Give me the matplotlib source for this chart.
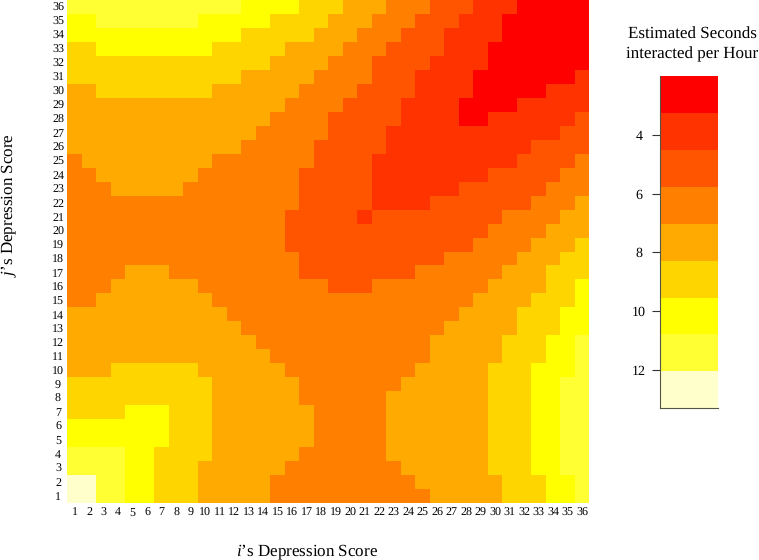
import matplotlib
matplotlib.use("Agg")
import matplotlib.pyplot as plt
from matplotlib.colors import ListedColormap, BoundaryNorm
import numpy as np

# one digit per cell, rows listed from score 36 down to score 1
# 0 is the red band (fewest seconds), 8 the pale band (most seconds)
band_rows = [
	"777777777777" + "6666" + "555" + "444" + "333" + "222" + "111" + "00000",
	"66" + "7777777" + "66666" + "5555" + "444" + "333" + "222" + "111" + "000000",
	"666666666666" + "55555" + "4" + "44" + "333" + "222" + "1111" + "000000",
	"55" + "66666666" + "55555" + "444" + "4" + "333" + "2222" + "111" + "0000000",
	"55555555555555" + "4444" + "333" + "2222" + "1111" + "0000000",
	"555555555555" + "44444" + "3" + "333" + "222" + "1111" + "0000000" + "1",
	"44" + "55555555" + "444444" + "33" + "33" + "2222" + "1111" + "00000" + "111",
	"444444444444444" + "333" + "3" + "2222" + "1111" + "0000" + "11111",
	"44444444444444" + "3333" + "22222" + "1111" + "00" + "111111" + "2",
	"4444444444444" + "33333" + "2222" + "111111111111" + "22",
	"444444444444" + "33333" + "2" + "2222" + "1111111111" + "2222",
	"3" + "444444444" + "3333333" + "2" + "222" + "1111111111" + "2222" + "3",
	"33" + "4444444" + "3333333" + "22" + "222" + "11111111" + "22222" + "33",
	"333" + "44444" + "33333333" + "22" + "222" + "111111" + "222222" + "333",
	"3333333333333333" + "22" + "222" + "1111" + "2222222" + "333" + "4",
	"333333333333333" + "222" + "22" + "1" + "222222222" + "3333" + "44",
	"333333333333333" + "222" + "22222222222" + "3333" + "444",
	"333333333333333" + "222" + "2222222222" + "3333" + "444" + "5",
	"3333333333333333" + "22" + "22222222" + "33333" + "444" + "55",
	"3333" + "444" + "333333333" + "22" + "222222" + "333333" + "444" + "555",
	"333" + "444444" + "333333333" + "222" + "33333333" + "4444" + "55" + "6",
	"33" + "44444444" + "33333333" + "3333333333" + "4444" + "555" + "6",
	"44444444444" + "3333333" + "333333333" + "4444" + "555" + "66",
	"444444444444" + "333333" + "33333333" + "44444" + "555" + "66",
	"4444444444444" + "33333" + "3333333" + "44444" + "555" + "66" + "7",
	"44444444444444" + "3333" + "3333333" + "44444" + "555" + "66" + "7",
	"444" + "555555" + "444444" + "333" + "333333" + "44444" + "555" + "666" + "7",
	"5555555555" + "444444" + "33" + "33333" + "444444" + "555" + "66" + "77",
	"5555555555" + "444444" + "33" + "3333" + "4444444" + "555" + "66" + "77",
	"5555" + "666" + "555" + "4444444" + "3" + "3333" + "4444444" + "555" + "66" + "77",
	"6666666" + "555" + "4444444" + "3" + "3333" + "4444444" + "555" + "66" + "77",
	"6666666" + "555" + "4444444" + "3" + "3333" + "4444444" + "555" + "66" + "77",
	"7777" + "66" + "5555" + "444444" + "33" + "3333" + "4444444" + "555" + "66" + "77",
	"7777" + "66" + "555" + "444444" + "333" + "33333" + "444444" + "555" + "66" + "77",
	"88" + "77" + "66" + "555" + "44444" + "3333" + "333333" + "444444" + "555" + "66" + "7",
	"88" + "77" + "66" + "555" + "44444" + "3333" + "3333333" + "44444" + "555" + "66" + "7",
]

scores = list(range(1, 37))
band_colors = ["#ff0000", "#ff3300", "#ff5500", "#ff8000", "#ffaa00", "#ffd500", "#ffff00", "#ffff33", "#ffffcc"]
seconds_min = 2.0
seconds_max = 13.3
seconds_ticks = [4, 6, 8, 10, 12]

plt.rcParams["font.family"] = ["Liberation Serif", "DejaVu Serif"]
plt.rcParams["mathtext.fontset"] = "custom"
plt.rcParams["mathtext.it"] = "Liberation Serif:italic"
plt.rcParams["mathtext.rm"] = "Liberation Serif"
plt.rcParams["text.hinting"] = "no_hinting"
plt.rcParams["text.hinting_factor"] = 1


def plot():
	edges = np.linspace(seconds_min, seconds_max, len(band_colors) + 1)
	mids = (edges[:-1] + edges[1:]) / 2
	cmap = ListedColormap(band_colors)
	norm = BoundaryNorm(edges, cmap.N)

	# rows come top first, pcolormesh wants them bottom first
	grid = np.array([[mids[int(c)] for c in row] for row in band_rows[::-1]])

	W, H = 759.0, 560.0
	fig = plt.figure(figsize=(W / 100, H / 100), dpi=100)

	ax = fig.add_axes([67.3 / W, 1 - 503.0 / H, 522.0 / W, 503.0 / H])
	cell_edges = np.arange(0.5, len(scores) + 1)
	ax.pcolormesh(cell_edges, cell_edges, grid, cmap=cmap, norm=norm)
	ax.set_xticks(scores)
	ax.set_yticks(scores)
	ax.tick_params(length=0, labelsize=8.8)
	ax.tick_params(axis="x", pad=3)
	ax.tick_params(axis="y", pad=6.7)
	for label in ax.get_yticklabels():
		label.set_ha("center")
	for side in ax.spines.values():
		side.set_visible(False)

	fig.text(307 / W, 1 - 552 / H, r"$\mathit{i}$’s Depression Score", ha="center", va="center", fontsize=12)
	fig.text(9 / W, 1 - 205 / H, r"$\mathit{j}$’s Depression Score", ha="center", va="center", rotation=90, fontsize=12)

	cax = fig.add_axes([660.0 / W, 1 - 408.3 / H, 58.3 / W, 332.3 / H])
	cax.pcolormesh([0, 1], edges, mids.reshape(-1, 1), cmap=cmap, norm=norm)
	cax.set_ylim(seconds_max, seconds_min)
	cax.set_xticks([])
	cax.set_yticks(seconds_ticks)
	cax.tick_params(axis="y", length=5.8, width=0.8, pad=9.4, labelsize=10, color="#333333")
	for label in cax.get_yticklabels():
		label.set_ha("center")
	cax.spines["right"].set_visible(False)
	cax.spines["top"].set_visible(False)
	cax.spines["left"].set_color("#555544")
	cax.spines["bottom"].set_color("#555544")

	fig.text(692.5 / W, 1 - 34 / H, "Estimated Seconds", ha="center", va="center", fontsize=12.2)
	fig.text(692.5 / W, 1 - 54 / H, "interacted per Hour", ha="center", va="center", fontsize=12.2)

	fig.savefig("out.png", dpi=100)


def main():
	plot()


if __name__ == "__main__":
	main()
